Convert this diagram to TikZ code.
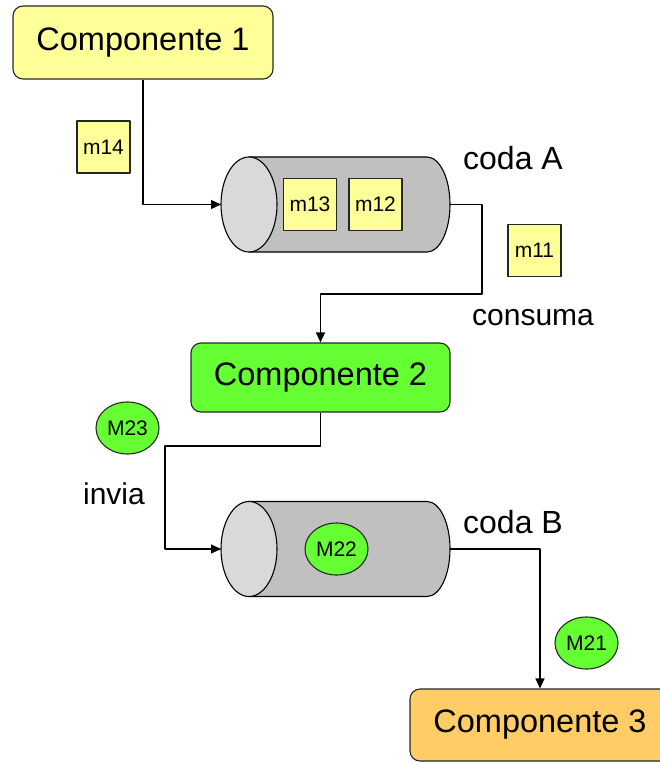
\documentclass[tikz,border=0pt]{standalone}
\usepackage{fontspec}
\setmainfont{Liberation Sans}
\usetikzlibrary{shapes.geometric,arrows.meta}
\definecolor{giallo}{HTML}{FFFF99}
\definecolor{verde}{HTML}{66FF33}
\definecolor{arancio}{HTML}{FFCC66}
\definecolor{corpo}{HTML}{C0C0C0}
\definecolor{fondo}{HTML}{D9D9D9}
\newcommand\coda[1]{% corpo e faccia della coda #1
  \draw[fill=corpo] ([xshift=28pt]#1.north west) -- ([xshift=-23pt]#1.north east)
    arc[start angle=90, end angle=-90, x radius=23pt, y radius=47.5pt] -- ([xshift=28pt]#1.south west) -- cycle;
  \draw[fill=fondo] ([xshift=28pt]#1.west) ellipse[x radius=28pt, y radius=47.5pt];}
\begin{document}
\begin{tikzpicture}[x=1pt, y=-1pt, line width=1.1pt, line join=round, >={Triangle[length=10pt,width=9pt]},
  comp/.style={draw=black!85, rounded corners=10pt, font=\fontsize{32.5}{36}\selectfont},
  msg/.style={draw=black!85, fill=giallo, minimum width=53, minimum height=52, inner sep=0pt, font=\fontsize{21}{24}\selectfont},
  msgg/.style={draw=black!85, fill=verde, ellipse, minimum width=63, minimum height=52, inner sep=0pt, font=\fontsize{21}{24}\selectfont},
  queue/.style={minimum width=229, minimum height=95, inner sep=0pt, outer sep=0pt},
  lbl/.style={font=\fontsize{30}{34}\selectfont}]
\useasboundingbox (0,0) rectangle (660,762);
% componenti
\node[comp, fill=giallo, minimum width=260, minimum height=73] (c1) at (143,42.5) {Componente 1};
\node[comp, fill=verde, minimum width=259, minimum height=69] (c2) at (320.5,377.5) {Componente 2};
\node[comp, fill=arancio, minimum width=260, minimum height=72] (c3) at (540,725) {Componente 3};
% code
\node[queue] (qa) at (335.5,204.5) {};
\node[queue] (qb) at (335.5,549) {};
\coda{qa}
\coda{qb}
\node[lbl, font=\fontsize{32}{36}\selectfont] (la) at (513,158) {coda A};
\node[lbl, font=\fontsize{32}{36}\selectfont] (lb) at (513,522) {coda B};
\node[lbl] (lc) at (533,318) {consuma};
\node[lbl] (li) at (114,494) {invia};
% messaggi
\node[msg] (m14) at (103.5,147) {m14};
\node[msg] (m13) at (310,204.5) {m13};
\node[msg] (m12) at (375.5,204.5) {m12};
\node[msg] (m11) at (534.5,250.5) {m11};
\node[msgg] (M23) at (127.5,428) {M23};
\node[msgg] (M22) at (336.5,549) {M22};
\node[msgg] (M21) at (586.5,643) {M21};
% collegamenti
\coordinate (ka) at (482,294);
\coordinate (kb) at (165,446);
\draw[->] (c1.south) |- (qa.west);
\draw[->] (qa.east) -| (ka) -| (c2.north);
\draw[->] (c2.south) |- (kb) |- (qb.west);
\draw[->] (qb.east) -| (c3.north);
\end{tikzpicture}
\end{document}
